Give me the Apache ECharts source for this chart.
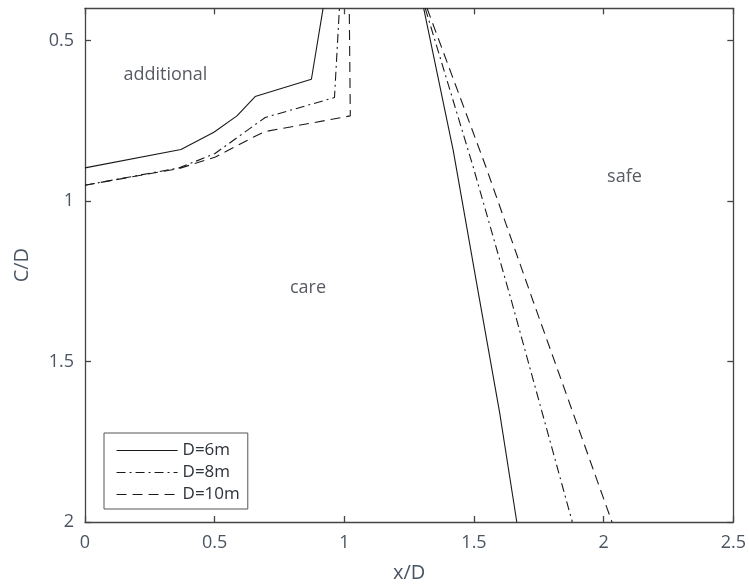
<!DOCTYPE html>
<html><head><meta charset="utf-8">
<script src="https://cdn.jsdelivr.net/npm/echarts@6/dist/echarts.min.js"></script>
<style>html,body{margin:0;padding:0;background:#fff}#c{width:749px;height:588px}</style>
</head><body><div id="c"></div>
<script>
// ---- data ----
const xTicks = [0, 0.5, 1, 1.5, 2, 2.5];
const yTicks = [0.5, 1, 1.5, 2];
const seriesNames = ['D=6m', 'D=8m', 'D=10m'];
const d6Left  = [[0,0.897],[0.370,0.840],[0.497,0.786],[0.586,0.735],[0.656,0.675],[0.873,0.621],[0.918,0.4]];
const d6Right = [[1.306,0.4],[1.420,0.843],[1.520,1.301],[1.599,1.66],[1.665,2.0]];
const d8Left  = [[0,0.951],[0.363,0.897],[0.500,0.853],[0.695,0.740],[0.962,0.678],[0.981,0.4]];
const d8Right = [[1.312,0.4],[1.495,0.889],[1.644,1.31],[1.879,2.0]];
const d10Left = [[0,0.951],[0.363,0.899],[0.503,0.863],[0.650,0.801],[0.695,0.784],[1.023,0.735],[1.019,0.4]];
const d10Right= [[1.319,0.4],[1.545,0.892],[1.727,1.31],[2.032,2.0]];
const regionNames = ['additional', 'care', 'safe'];
const regionPos = [[0.310,0.606],[0.860,1.272],[2.080,0.924]];

// ---- chart ----
const chart = echarts.init(document.getElementById('c'), null, {renderer:'canvas'});
const frame = {lineStyle:{color:'#444', width:1.3}};
const tickColor = '#4a5563';
const lineColor = '#1a1a1a';
const styles = [
  {type:'solid'},
  {type:[9,4,2,4]},
  {type:[10,6]}
];
function mkLine(name, data, st){
  return {name:name, type:'line', data:data, symbol:'none', showSymbol:false,
    xAxisIndex:0, yAxisIndex:0, silent:true, animation:false,
    lineStyle:{color:lineColor, width:1.1, type:st.type},
    itemStyle:{color:'rgba(0,0,0,0)', opacity:0}};
}
const series = [
  mkLine(seriesNames[0], d6Left, styles[0]), mkLine(seriesNames[0], d6Right, styles[0]),
  mkLine(seriesNames[1], d8Left, styles[1]), mkLine(seriesNames[1], d8Right, styles[1]),
  mkLine(seriesNames[2], d10Left, styles[2]), mkLine(seriesNames[2], d10Right, styles[2]),
  {type:'scatter', name:'regions', silent:true, animation:false, symbolSize:1,
    itemStyle:{color:'rgba(0,0,0,0)'},
    data: regionNames.map((n,i)=>({name:n, value:regionPos[i]})),
    label:{show:true, position:'inside', formatter:'{b}', color:'#2c313a',
      fontFamily:'Open Sans', fontSize:18}}
];
const axisFont = {fontFamily:'Open Sans', fontSize:18, color:tickColor};
chart.setOption({
  animation:false,
  backgroundColor:'#fff',
  grid:{left:85, right:10, top:8.3, bottom:61.3, containLabel:false},
  legend:{
    data:seriesNames, orient:'vertical', left:104, top:433,
    itemWidth:61, itemHeight:14, itemGap:5,
    padding:[9,8,6,12], borderColor:'#555', borderWidth:1, backgroundColor:'#fff',
    itemStyle:{opacity:0},
    lineStyle:{color:lineColor, width:1.1},
    textStyle:{fontFamily:'Open Sans', fontSize:17, color:'#2c313a'},
    selectedMode:false
  },
  xAxis:[
    {type:'value', min:0, max:2.5, interval:0.5, position:'bottom',
     name:'x/D', nameLocation:'middle', nameGap:41,
     nameTextStyle:{fontFamily:'Open Sans', fontSize:20, color:tickColor},
     axisLine:Object.assign({show:true, onZero:false}, frame),
     axisTick:{show:true, inside:true, length:6, lineStyle:{color:'#444', width:1.3}},
     axisLabel:Object.assign({margin:12, formatter:v=>String(v)}, axisFont),
     splitLine:{show:false}},
    {type:'value', min:0, max:2.5, interval:0.5, position:'top',
     axisLine:Object.assign({show:true, onZero:false}, frame),
     axisTick:{show:true, inside:true, length:6, lineStyle:{color:'#444', width:1.3}},
     axisLabel:{show:false}, splitLine:{show:false}}
  ],
  yAxis:[
    {type:'value', min:0.4, max:2, inverse:true, position:'left',
     name:'C/D', nameLocation:'middle', nameGap:53, nameRotate:90,
     nameTextStyle:{fontFamily:'Open Sans', fontSize:20, color:tickColor},
     axisLine:Object.assign({show:true, onZero:false}, frame),
     axisTick:{show:true, inside:true, length:6, customValues:yTicks, lineStyle:{color:'#444', width:1.3}},
     axisLabel:Object.assign({margin:11, customValues:yTicks, formatter:v=>String(v)}, axisFont),
     splitLine:{show:false}},
    {type:'value', min:0.4, max:2, inverse:true, position:'right',
     axisLine:Object.assign({show:true, onZero:false}, frame),
     axisTick:{show:true, inside:true, length:6, customValues:yTicks, lineStyle:{color:'#444', width:1.3}},
     axisLabel:{show:false}, splitLine:{show:false}}
  ],
  series:series
});
</script>
</body></html>
